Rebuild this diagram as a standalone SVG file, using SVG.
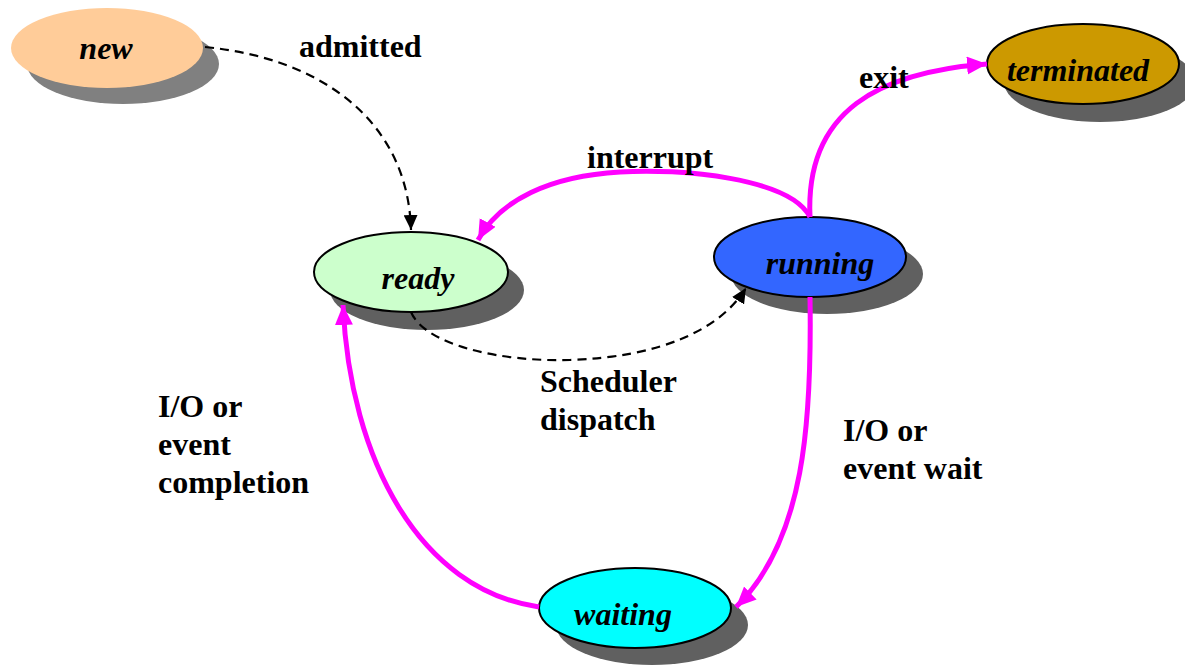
<svg xmlns="http://www.w3.org/2000/svg" width="1185" height="666" viewBox="0 0 1185 666">
  <style>
    .shadow { fill: #606060; }
    .state { stroke: #000; stroke-width: 2; }
    .name { font-family: "Liberation Serif", "Times New Roman", serif; font-size: 32px; font-weight: bold; font-style: italic; fill: #000; text-anchor: middle; }
    .label { font-family: "Liberation Serif", "Times New Roman", serif; font-size: 32px; font-weight: bold; fill: #000; }
    .flow { fill: none; stroke: #FF00FF; stroke-width: 5; }
    .dash { fill: none; stroke: #000; stroke-width: 2.2; stroke-dasharray: 9 6; }
  </style>
  <defs>
    <marker id="pinkHead" markerUnits="userSpaceOnUse" markerWidth="22" markerHeight="20" refX="20" refY="9" orient="auto">
      <path d="M0,0 L20,9 L0,18 Z" fill="#FF00FF"/>
    </marker>
    <marker id="blackHead" markerUnits="userSpaceOnUse" markerWidth="16" markerHeight="14" refX="15" refY="7" orient="auto">
      <path d="M0,0 L15,7 L0,14 Z" fill="#000"/>
    </marker>
  </defs>

  <rect width="1185" height="666" fill="#fff"/>

  <g id="new">
    <ellipse cx="123" cy="64" rx="96" ry="40" fill="#808080"/>
    <ellipse cx="107" cy="48" rx="96" ry="40" fill="#FFCC99"/>
    <text class="name" x="106" y="59">new</text>
  </g>

  <g id="ready">
    <ellipse class="shadow" cx="427" cy="290" rx="97" ry="40"/>
    <ellipse class="state" cx="411" cy="272" rx="97" ry="40" fill="#CCFFCC"/>
    <text class="name" x="418" y="289">ready</text>
  </g>

  <g id="running">
    <ellipse class="shadow" cx="827" cy="274" rx="96" ry="40"/>
    <ellipse class="state" cx="810" cy="257" rx="96" ry="40" fill="#3366FF"/>
    <text class="name" x="820" y="274">running</text>
  </g>

  <g id="terminated">
    <ellipse class="shadow" cx="1100" cy="82" rx="96" ry="40"/>
    <ellipse class="state" cx="1083" cy="64" rx="96" ry="40" fill="#CC9900"/>
    <text class="name" x="1078" y="81">terminated</text>
  </g>

  <g id="waiting">
    <ellipse class="shadow" cx="652" cy="625" rx="96" ry="40"/>
    <ellipse class="state" cx="635" cy="608" rx="96" ry="40" fill="#00FFFF"/>
    <text class="name" x="623" y="625">waiting</text>
  </g>

  <g id="connectors">
    <path class="dash" d="M205,47 C320,58 408,120 411,230" marker-end="url(#blackHead)"/>
    <path class="flow" d="M810,217 C790,178 680,168 620,172 C550,176 500,200 478,240" marker-end="url(#pinkHead)"/>
    <path class="flow" d="M810,217 C805,110 880,72 987,64" marker-end="url(#pinkHead)"/>
    <path class="dash" d="M411,312 C425,345 500,362 570,360 C660,357 720,330 746,288" marker-end="url(#blackHead)"/>
    <path class="flow" d="M810,297 C812,420 805,540 736,607" marker-end="url(#pinkHead)"/>
    <path class="flow" d="M539,607 C420,590 350,460 343,305" marker-end="url(#pinkHead)"/>
  </g>

  <g id="labels">
    <text class="label" x="299" y="57">admitted</text>
    <text class="label" x="587" y="168">interrupt</text>
    <text class="label" x="859" y="88">exit</text>
    <text class="label" x="540" y="392">Scheduler</text>
    <text class="label" x="540" y="430">dispatch</text>
    <text class="label" x="158" y="417">I/O or</text>
    <text class="label" x="158" y="455">event</text>
    <text class="label" x="158" y="493">completion</text>
    <text class="label" x="843" y="441">I/O or</text>
    <text class="label" x="843" y="479">event wait</text>
  </g>
</svg>
